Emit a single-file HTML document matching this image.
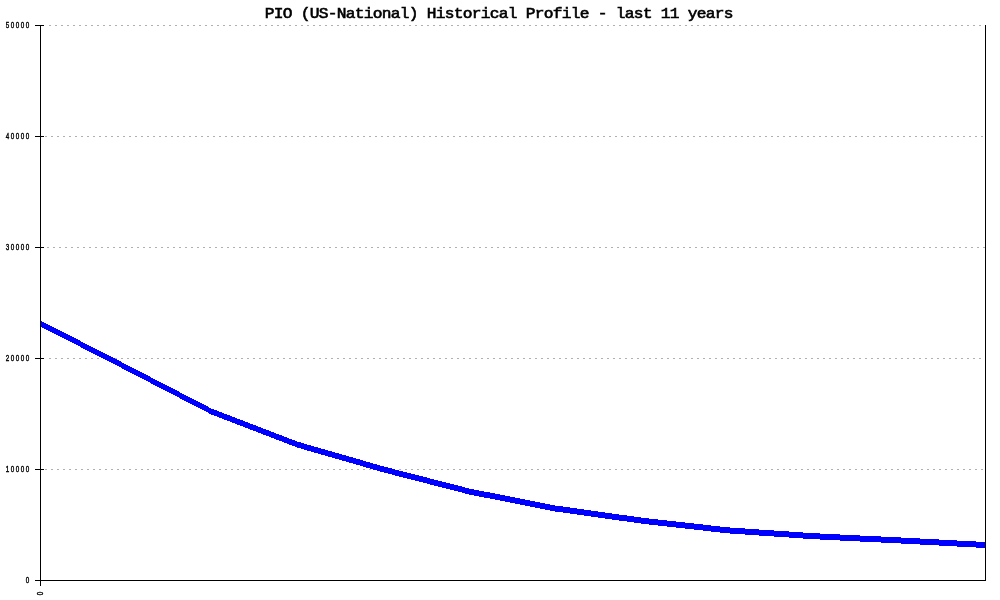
<!DOCTYPE html>
<html><head><meta charset="utf-8"><title>PIO (US-National) Historical Profile</title>
<style>
html,body{margin:0;padding:0;background:#fff;}
body{width:1000px;height:600px;overflow:hidden;}
svg{display:block;}
.title{font-family:"Liberation Mono",monospace;font-size:15px;fill:#000;stroke:#000;stroke-width:0.6px;letter-spacing:-0.667px;}
.tick{font-family:"Liberation Sans",sans-serif;font-size:8.33px;fill:#000;stroke:#000;stroke-width:0.4px;letter-spacing:2.03px;}
</style></head><body>
<svg width="1000" height="600" viewBox="0 0 1000 600" shape-rendering="crispEdges">
<rect width="1000" height="600" fill="#fff"/>
<line x1="49" y1="25.5" x2="985" y2="25.5" stroke="#b0b0b0" stroke-width="1" stroke-dasharray="2 4"/>
<line x1="45" y1="136.5" x2="985" y2="136.5" stroke="#b0b0b0" stroke-width="1" stroke-dasharray="2 4"/>
<line x1="47" y1="247.5" x2="985" y2="247.5" stroke="#b0b0b0" stroke-width="1" stroke-dasharray="2 4"/>
<line x1="49" y1="358.5" x2="985" y2="358.5" stroke="#b0b0b0" stroke-width="1" stroke-dasharray="2 4"/>
<line x1="45" y1="469.5" x2="985" y2="469.5" stroke="#b0b0b0" stroke-width="1" stroke-dasharray="2 4"/>

<polygon points="40,320.25 125.9,364.25 211.8,408.7 297.7,441.7 383.6,466.45 469.5,488.55 555.5,505.5 641.4,517.6 727.3,527.3 813.2,533.2 899.1,537.4 985.5,542.0 985.5,548.0 899.1,543.4 813.2,539.2 727.3,533.3 641.4,523.6 555.5,511.5 469.5,494.55 383.6,472.45 297.7,447.7 211.8,414.7 125.9,370.25 40,326.25" fill="#0000ff"/>
<line x1="40.5" y1="25" x2="40.5" y2="586" stroke="#000" stroke-width="1"/>
<line x1="985.5" y1="25" x2="985.5" y2="581" stroke="#000" stroke-width="1"/>
<line x1="35" y1="580.5" x2="986" y2="580.5" stroke="#000" stroke-width="1"/>
<line x1="35" y1="25.5" x2="44" y2="25.5" stroke="#000" stroke-width="1"/>
<line x1="35" y1="136.5" x2="44" y2="136.5" stroke="#000" stroke-width="1"/>
<line x1="35" y1="247.5" x2="44" y2="247.5" stroke="#000" stroke-width="1"/>
<line x1="35" y1="358.5" x2="44" y2="358.5" stroke="#000" stroke-width="1"/>
<line x1="35" y1="469.5" x2="44" y2="469.5" stroke="#000" stroke-width="1"/>
<line x1="35" y1="580.5" x2="44" y2="580.5" stroke="#000" stroke-width="1"/>

<text transform="translate(5.7,28) scale(0.75,1)" class="tick">50000</text>
<text transform="translate(5.7,139) scale(0.75,1)" class="tick">40000</text>
<text transform="translate(5.7,250) scale(0.75,1)" class="tick">30000</text>
<text transform="translate(5.7,361) scale(0.75,1)" class="tick">20000</text>
<text transform="translate(5.7,472) scale(0.75,1)" class="tick">10000</text>
<text transform="translate(25.7,583) scale(0.75,1)" class="tick">0</text>

<text transform="translate(264.64,18) scale(1.08,1)" class="title">PIO (US-National) Historical Profile - last 11 years</text>
<text transform="translate(43,595.3) rotate(-90) scale(0.75,1)" class="tick">0</text>
</svg>
</body></html>
